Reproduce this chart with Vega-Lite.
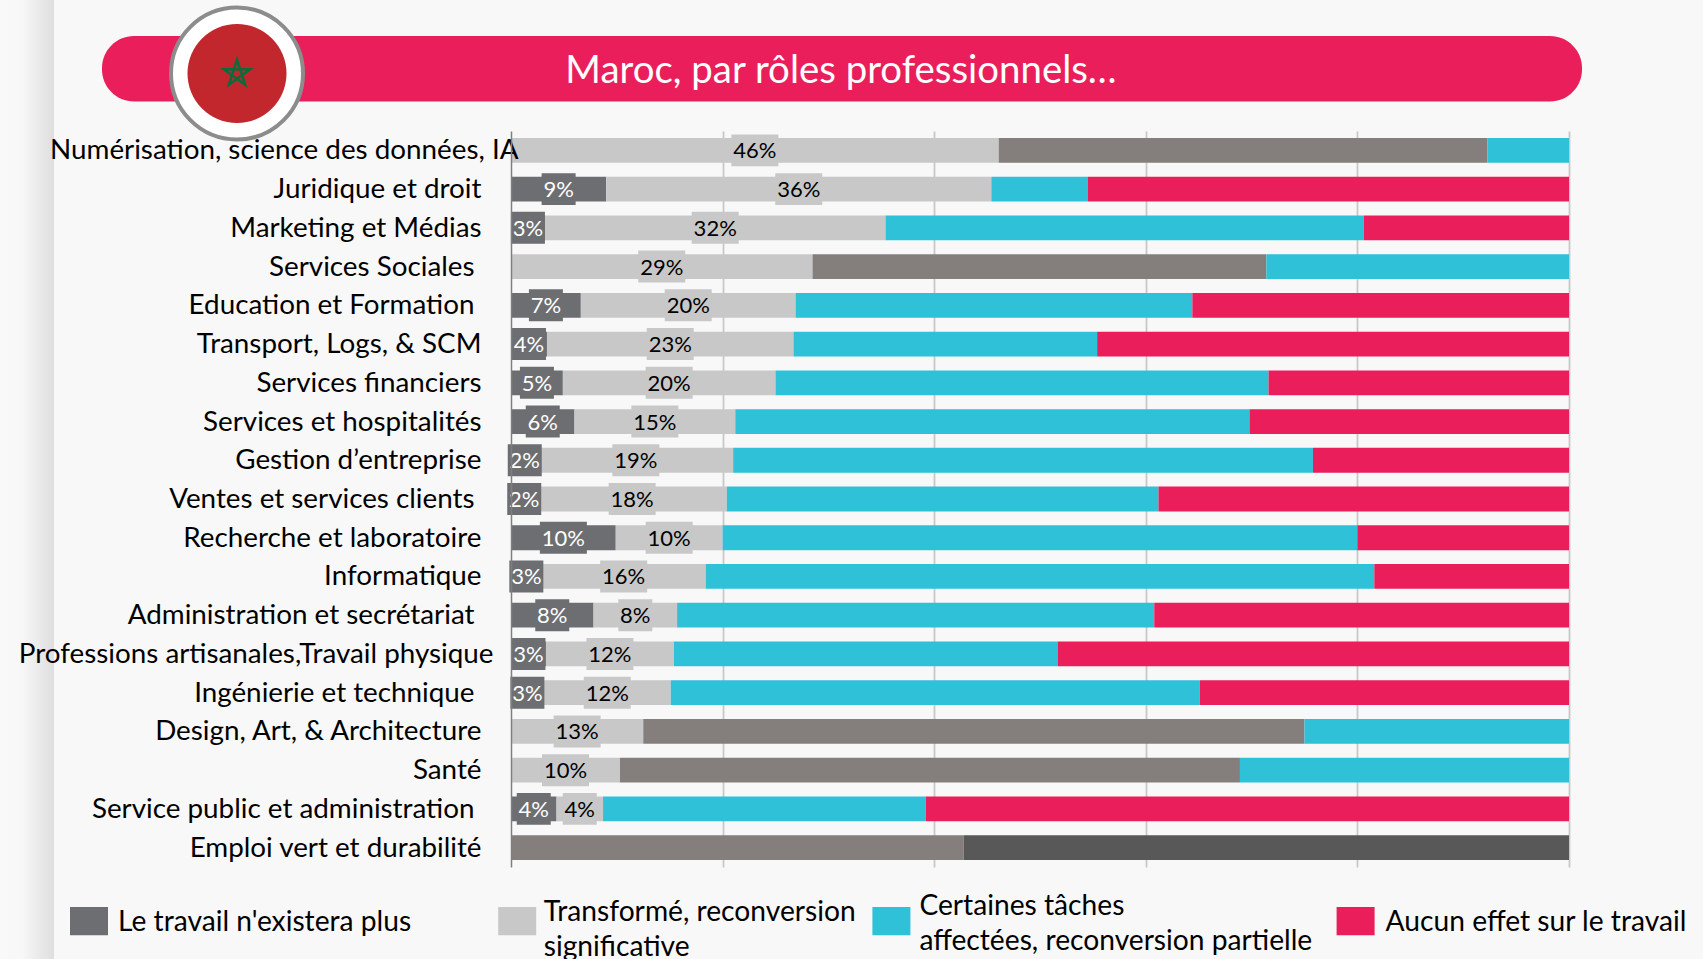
{
"$schema":"https://vega.github.io/schema/vega-lite/v6.json",
"width":1058,"height":736,
"autosize":{"type":"none"},
"padding":{"left":511,"top":131,"right":134,"bottom":92},
"background":"#f8f8f8",
"title":{"text":"Maroc, par rôles professionnels…","anchor":"middle","dx":-199,"offset":-110,"baseline":"middle","color":"#ffffff","fontSize":38.4,"font":"Lato","fontWeight":"normal"},
"config":{"view":{"stroke":null},"font":"Lato"},
"data":{"values":[
{"role":"Numérisation, science des données, IA","series":"Transformé, reconversion significative","rank":2,"value":46.1,"label":"46%"},
{"role":"Numérisation, science des données, IA","series":"Autre A","rank":3,"value":46.2},
{"role":"Numérisation, science des données, IA","series":"Certaines tâches affectées, reconversion partielle","rank":4,"value":7.7},
{"role":"Juridique et droit","series":"Le travail n'existera plus","rank":1,"value":9.0,"label":"9%"},
{"role":"Juridique et droit","series":"Transformé, reconversion significative","rank":2,"value":36.4,"label":"36%"},
{"role":"Juridique et droit","series":"Certaines tâches affectées, reconversion partielle","rank":4,"value":9.1},
{"role":"Juridique et droit","series":"Aucun effet sur le travail","rank":5,"value":45.5},
{"role":"Marketing et Médias","series":"Le travail n'existera plus","rank":1,"value":3.2,"label":"3%"},
{"role":"Marketing et Médias","series":"Transformé, reconversion significative","rank":2,"value":32.2,"label":"32%"},
{"role":"Marketing et Médias","series":"Certaines tâches affectées, reconversion partielle","rank":4,"value":45.2},
{"role":"Marketing et Médias","series":"Aucun effet sur le travail","rank":5,"value":19.4},
{"role":"Services Sociales","series":"Transformé, reconversion significative","rank":2,"value":28.5,"label":"29%"},
{"role":"Services Sociales","series":"Autre A","rank":3,"value":42.9},
{"role":"Services Sociales","series":"Certaines tâches affectées, reconversion partielle","rank":4,"value":28.6},
{"role":"Education et Formation","series":"Le travail n'existera plus","rank":1,"value":6.6,"label":"7%"},
{"role":"Education et Formation","series":"Transformé, reconversion significative","rank":2,"value":20.3,"label":"20%"},
{"role":"Education et Formation","series":"Certaines tâches affectées, reconversion partielle","rank":4,"value":37.5},
{"role":"Education et Formation","series":"Aucun effet sur le travail","rank":5,"value":35.6},
{"role":"Transport, Logs, & SCM","series":"Le travail n'existera plus","rank":1,"value":3.4,"label":"4%"},
{"role":"Transport, Logs, & SCM","series":"Transformé, reconversion significative","rank":2,"value":23.3,"label":"23%"},
{"role":"Transport, Logs, & SCM","series":"Certaines tâches affectées, reconversion partielle","rank":4,"value":28.7},
{"role":"Transport, Logs, & SCM","series":"Aucun effet sur le travail","rank":5,"value":44.6},
{"role":"Services financiers","series":"Le travail n'existera plus","rank":1,"value":4.9,"label":"5%"},
{"role":"Services financiers","series":"Transformé, reconversion significative","rank":2,"value":20.1,"label":"20%"},
{"role":"Services financiers","series":"Certaines tâches affectées, reconversion partielle","rank":4,"value":46.6},
{"role":"Services financiers","series":"Aucun effet sur le travail","rank":5,"value":28.4},
{"role":"Services et hospitalités","series":"Le travail n'existera plus","rank":1,"value":6.0,"label":"6%"},
{"role":"Services et hospitalités","series":"Transformé, reconversion significative","rank":2,"value":15.2,"label":"15%"},
{"role":"Services et hospitalités","series":"Certaines tâches affectées, reconversion partielle","rank":4,"value":48.6},
{"role":"Services et hospitalités","series":"Aucun effet sur le travail","rank":5,"value":30.2},
{"role":"Gestion d’entreprise","series":"Le travail n'existera plus","rank":1,"value":2.6,"label":"2%"},
{"role":"Gestion d’entreprise","series":"Transformé, reconversion significative","rank":2,"value":18.4,"label":"19%"},
{"role":"Gestion d’entreprise","series":"Certaines tâches affectées, reconversion partielle","rank":4,"value":54.8},
{"role":"Gestion d’entreprise","series":"Aucun effet sur le travail","rank":5,"value":24.2},
{"role":"Ventes et services clients","series":"Le travail n'existera plus","rank":1,"value":2.5,"label":"2%"},
{"role":"Ventes et services clients","series":"Transformé, reconversion significative","rank":2,"value":17.9,"label":"18%"},
{"role":"Ventes et services clients","series":"Certaines tâches affectées, reconversion partielle","rank":4,"value":40.8},
{"role":"Ventes et services clients","series":"Aucun effet sur le travail","rank":5,"value":38.8},
{"role":"Recherche et laboratoire","series":"Le travail n'existera plus","rank":1,"value":9.9,"label":"10%"},
{"role":"Recherche et laboratoire","series":"Transformé, reconversion significative","rank":2,"value":10.1,"label":"10%"},
{"role":"Recherche et laboratoire","series":"Certaines tâches affectées, reconversion partielle","rank":4,"value":60.0},
{"role":"Recherche et laboratoire","series":"Aucun effet sur le travail","rank":5,"value":20.0},
{"role":"Informatique","series":"Le travail n'existera plus","rank":1,"value":2.9,"label":"3%"},
{"role":"Informatique","series":"Transformé, reconversion significative","rank":2,"value":15.5,"label":"16%"},
{"role":"Informatique","series":"Certaines tâches affectées, reconversion partielle","rank":4,"value":63.2},
{"role":"Informatique","series":"Aucun effet sur le travail","rank":5,"value":18.4},
{"role":"Administration et secrétariat","series":"Le travail n'existera plus","rank":1,"value":7.8,"label":"8%"},
{"role":"Administration et secrétariat","series":"Transformé, reconversion significative","rank":2,"value":7.9,"label":"8%"},
{"role":"Administration et secrétariat","series":"Certaines tâches affectées, reconversion partielle","rank":4,"value":45.1},
{"role":"Administration et secrétariat","series":"Aucun effet sur le travail","rank":5,"value":39.2},
{"role":"Professions artisanales,Travail physique","series":"Le travail n'existera plus","rank":1,"value":3.3,"label":"3%"},
{"role":"Professions artisanales,Travail physique","series":"Transformé, reconversion significative","rank":2,"value":12.1,"label":"12%"},
{"role":"Professions artisanales,Travail physique","series":"Certaines tâches affectées, reconversion partielle","rank":4,"value":36.3},
{"role":"Professions artisanales,Travail physique","series":"Aucun effet sur le travail","rank":5,"value":48.3},
{"role":"Ingénierie et technique","series":"Le travail n'existera plus","rank":1,"value":3.1,"label":"3%"},
{"role":"Ingénierie et technique","series":"Transformé, reconversion significative","rank":2,"value":12.0,"label":"12%"},
{"role":"Ingénierie et technique","series":"Certaines tâches affectées, reconversion partielle","rank":4,"value":50.0},
{"role":"Ingénierie et technique","series":"Aucun effet sur le travail","rank":5,"value":34.9},
{"role":"Design, Art, & Architecture","series":"Transformé, reconversion significative","rank":2,"value":12.5,"label":"13%"},
{"role":"Design, Art, & Architecture","series":"Autre A","rank":3,"value":62.5},
{"role":"Design, Art, & Architecture","series":"Certaines tâches affectées, reconversion partielle","rank":4,"value":25.0},
{"role":"Santé","series":"Transformé, reconversion significative","rank":2,"value":10.3,"label":"10%"},
{"role":"Santé","series":"Autre A","rank":3,"value":58.6},
{"role":"Santé","series":"Certaines tâches affectées, reconversion partielle","rank":4,"value":31.1},
{"role":"Service public et administration","series":"Le travail n'existera plus","rank":1,"value":4.3,"label":"4%"},
{"role":"Service public et administration","series":"Transformé, reconversion significative","rank":2,"value":4.4,"label":"4%"},
{"role":"Service public et administration","series":"Certaines tâches affectées, reconversion partielle","rank":4,"value":30.5},
{"role":"Service public et administration","series":"Aucun effet sur le travail","rank":5,"value":60.8},
{"role":"Emploi vert et durabilité","series":"Autre A","rank":3,"value":42.8},
{"role":"Emploi vert et durabilité","series":"Autre B","rank":6,"value":57.2}
]},
"resolve":{"scale":{"x":"independent","y":"independent"}},
"layer":[
{
"data":{"values":[{"item":"décor"}]},
"encoding":{
"x":{"datum":0,"type":"quantitative","axis":null,"scale":{"domain":[0,1703],"range":[-511,1192],"nice":false,"zero":false}},
"y":{"datum":0,"type":"quantitative","axis":null,"scale":{"domain":[0,959],"range":[-131,828],"nice":false,"zero":false}}
},
"layer":[
{"mark":{"type":"rect","clip":false,"fill":{"x1":0,"y1":0,"x2":1,"y2":0,"gradient":"linear","stops":[{"offset":0,"color":"#f9f9f9"},{"offset":0.4,"color":"#f8f8f8"},{"offset":1,"color":"#dedede"}]}},
 "encoding":{"x":{"datum":0,"type":"quantitative"},"x2":{"datum":54},"y":{"datum":0,"type":"quantitative"},"y2":{"datum":959}}},
{"mark":{"type":"rect","color":"#e91e5b","cornerRadius":32},
 "encoding":{"x":{"datum":102,"type":"quantitative"},"x2":{"datum":1582},"y":{"datum":36,"type":"quantitative"},"y2":{"datum":101.5}}},
{"mark":{"type":"point","filled":true,"fill":"#ffffff","stroke":"#8c8c8c","strokeWidth":4,"size":17424,"opacity":1,"strokeOpacity":1},
 "encoding":{"x":{"datum":237,"type":"quantitative"},"y":{"datum":73.5,"type":"quantitative"}}},
{"mark":{"type":"point","filled":true,"fill":"#c1272d","stroke":null,"size":9801,"opacity":1},
 "encoding":{"x":{"datum":237,"type":"quantitative"},"y":{"datum":73.5,"type":"quantitative"}}},
{"mark":{"type":"point","filled":false,"stroke":"#0b6b3a","strokeWidth":2.5,"opacity":1,"size":760,"shape":"M0,-1L0.588,0.809L-0.951,-0.309L0.951,-0.309L-0.588,0.809Z"},
 "encoding":{"x":{"datum":237,"type":"quantitative"},"y":{"datum":73.5,"type":"quantitative"}}}
]
},
{
"encoding":{
"y":{"field":"role","type":"nominal","sort":null,"title":null,
 "scale":{"paddingInner":0.36,"paddingOuter":0.18},
 "axis":{"zindex":1,"domain":true,"domainColor":"#7f7f7f","domainWidth":1.5,"ticks":false,"grid":false,"labelPadding":30,"labelFont":"Lato","labelFontSize":27.8,"labelColor":"#000000","labelLimit":600,
  "encoding":{"labels":{"dy":{"value":1},"dx":{"value":{"expr":"datum.label==='Numérisation, science des données, IA'?37:datum.label==='Professions artisanales,Travail physique'?12:indexof(['Services Sociales','Education et Formation','Ventes et services clients','Administration et secrétariat','Ingénierie et technique','Service public et administration'],datum.label)>=0?-7:0"}}}}
 }},
"color":{"field":"series","type":"nominal","scale":{"domain":["Le travail n'existera plus","Transformé, reconversion significative","Certaines tâches affectées, reconversion partielle","Aucun effet sur le travail","Autre A","Autre B"],"range":["#6d6e71","#c8c8c8","#2fc1d8","#e91e5b","#847f7d","#585858"]},"legend":null},
"order":{"field":"rank","type":"quantitative"}
},
"layer":[
{"mark":{"type":"bar"},
 "encoding":{
 "x":{"field":"value","type":"quantitative","stack":"zero","title":null,
  "scale":{"domain":[0,100],"nice":false},
  "axis":{"domain":false,"ticks":false,"labels":false,"grid":true,"gridColor":"#c8c8c8","gridWidth":1.8,"values":[20,40,60,80,100]}},
 "color":{"field":"series","type":"nominal",
  "legend":{"orient":"none","legendX":-441,"legendY":771,"direction":"horizontal","columns":4,"columnPadding":16.2,"title":null,
   "values":["Le travail n'existera plus","Transformé, reconversion significative","Certaines tâches affectées, reconversion partielle","Aucun effet sur le travail"],
   "symbolType":"M0,-3.2M0,3.2M-1,-0.74H1V0.74H-1Z","symbolSize":1444,"symbolStrokeWidth":0,"symbolOpacity":1,"labelFont":"Lato","labelFontSize":28.2,"labelColor":"#000000","labelLimit":600,"labelOffset":9,
   "labelExpr":"datum.label==='Transformé, reconversion significative'?['Transformé, reconversion','significative']:datum.label==='Certaines tâches affectées, reconversion partielle'?['Certaines tâches','affectées, reconversion partielle']:datum.label",
   "encoding":{
    "labels":{"lineHeight":{"value":35},"dy":{"value":{"expr":"datum.value==='Transformé, reconversion significative'?-7.7:datum.value==='Certaines tâches affectées, reconversion partielle'?-13.7:2"}},"dx":{"value":{"expr":"datum.value==='Transformé, reconversion significative'?-1.5:datum.value==='Aucun effet sur le travail'?2:datum.value==='Le travail n\\'existera plus'?1:0"}}},
    "symbols":{"shape":{"value":{"expr":"datum.value==='Le travail n\\'existera plus'?'M20.65,0M0,-3.2M0,3.2M-1,-0.74H1V0.74H-1Z':datum.value==='Certaines tâches affectées, reconversion partielle'?'M22.55,0M0,-3.2M0,3.2M-1,-0.74H1V0.74H-1Z':'M0,-3.2M0,3.2M-1,-0.74H1V0.74H-1Z'"}}}
   }
  }}
 }},
{"mark":{"type":"point","filled":true,"opacity":1,"strokeWidth":0},
 "transform":[{"filter":"isValid(datum.label)"}],
 "encoding":{
 "x":{"field":"value","type":"quantitative","stack":"zero","bandPosition":0.5},
 "shape":{"condition":{"test":"length(datum.label)==3","value":"M-1,-0.68H1V0.68H-1Z"},"value":"M-1,-0.94H1V0.94H-1Z"},
 "size":{"condition":{"test":"length(datum.label)==3","value":2209},"value":1156}
 }},
{"mark":{"type":"text","font":"Lato","fontSize":22,"dy":1},
 "transform":[{"filter":"isValid(datum.label)"}],
 "encoding":{
 "x":{"field":"value","type":"quantitative","stack":"zero","bandPosition":0.5},
 "text":{"field":"label"},
 "color":{"condition":{"test":"datum.rank==1","value":"#ffffff"},"value":"#000000"}
 }}
]
}
]
}
